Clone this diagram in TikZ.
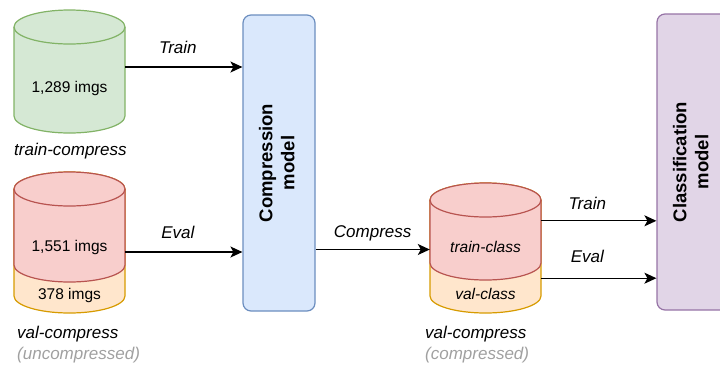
\documentclass[tikz,border=0pt]{standalone}
\usepackage{fontspec}
\setmainfont{Liberation Sans}
\usetikzlibrary{arrows.meta}

\definecolor{trainfill}{HTML}{D5E8D4}
\definecolor{trainline}{HTML}{82B366}
\definecolor{redfill}{HTML}{F8CECC}
\definecolor{redline}{HTML}{B85450}
\definecolor{orgfill}{HTML}{FFE6CC}
\definecolor{orgline}{HTML}{D79B00}
\definecolor{compfill}{HTML}{DAE8FC}
\definecolor{compline}{HTML}{6C8EBF}
\definecolor{clsfill}{HTML}{E1D5E7}
\definecolor{clsline}{HTML}{9673A6}
\definecolor{fadegray}{HTML}{A0A0A0}

% cylinder: centre x, top y, bottom y, fill, line
\newcommand{\dbcyl}[5]{%
  \filldraw[fill=#4, draw=#5, line width=1.2pt] (#1-55.5,#2) -- (#1-55.5,#3)
    arc[start angle=180, end angle=0, x radius=55.5, y radius=17] -- (#1+55.5,#2)
    arc[start angle=0, end angle=-180, x radius=55.5, y radius=17] -- cycle;
  \draw[#5, line width=1.2pt] (#1-55.5,#2)
    arc[start angle=180, end angle=0, x radius=55.5, y radius=17];}
\newcommand{\sideways}[1]{\rotatebox{90}{\begin{tabular}{@{}c@{}}#1\end{tabular}}}

\begin{document}
\begin{tikzpicture}[x=1pt, y=-1pt,
    flow/.style={-{Stealth[length=12pt, width=11pt, inset=3pt]}, line width=1.3pt},
    tag/.style={font=\fontsize{17}{20}\selectfont\itshape, inner sep=0pt, text depth=0pt},
    setname/.style={font=\fontsize{17}{20}\selectfont\itshape, inner sep=0pt, anchor=base west},
    count/.style={font=\fontsize{15.5}{18}\selectfont},
    slot/.style={minimum width=111pt, minimum height=100pt, inner sep=0pt},
    model/.style={minimum width=72pt, minimum height=296pt, rounded corners=8pt, line width=1.2pt,
      font=\fontsize{18.5}{22}\selectfont\bfseries}]
\useasboundingbox (0,0) rectangle (720,365);
\clip (0,0) rectangle (720,365);

% data sets
\dbcyl{69.5}{27}{116}{trainfill}{trainline}
\dbcyl{69.5}{189}{296}{orgfill}{orgline}
\dbcyl{69.5}{189}{265}{redfill}{redline}
\dbcyl{485.5}{200}{296}{orgfill}{orgline}
\dbcyl{485.5}{200}{263}{redfill}{redline}

\node[slot] (trainset) at (69.5,67) {};
\node[slot] (valset) at (69.5,252) {};
\node[slot, minimum height=57pt] (classset) at (485.5,249.5) {};

\node[count] (traincount) at (69.5,88) {1,289 imgs};
\node[count] (valcount) at (69.5,247) {1,551 imgs};
\node[count] (restcount) at (69.5,295) {378 imgs};
\node[count, font=\fontsize{15.5}{18}\selectfont\itshape] (trainclass) at (485.5,247) {train-class};
\node[count, font=\fontsize{15.5}{18}\selectfont\itshape] (valclass) at (485.5,294) {val-class};

\node[setname] (trainname) at (14,155) {train-compress};
\node[setname] (valname) at (17,338) {val-compress};
\node[setname, fadegray] (valnote) at (17,359) {(uncompressed)};
\node[setname] (cvalname) at (425,338) {val-compress};
\node[setname, fadegray] (cvalnote) at (425,359) {(compressed)};

% models
\node[model, fill=compfill, draw=compline] (comp) at (279,163) {\sideways{Compression\\model}};
\node[model, fill=clsfill, draw=clsline] (cls) at (693,162) {\sideways{Classification\\model}};

\draw[flow] (trainset.east) -- node[tag, pos=.45, above=13pt] {Train} (trainset.east -| comp.west);
\draw[flow] (valset.east) -- node[tag, pos=.45, above=13pt] {Eval} (valset.east -| comp.west);
\draw[flow] (comp.east |- classset.west) -- node[tag, pos=.5, above=11pt] {Compress} (classset.west);
\draw[flow] (classset.north east) -- node[tag, pos=.4, above=11pt] {Train} (classset.north east -| cls.west);
\draw[flow] (classset.south east) -- node[tag, pos=.4, above=15pt] {Eval} (classset.south east -| cls.west);
\end{tikzpicture}
\end{document}
